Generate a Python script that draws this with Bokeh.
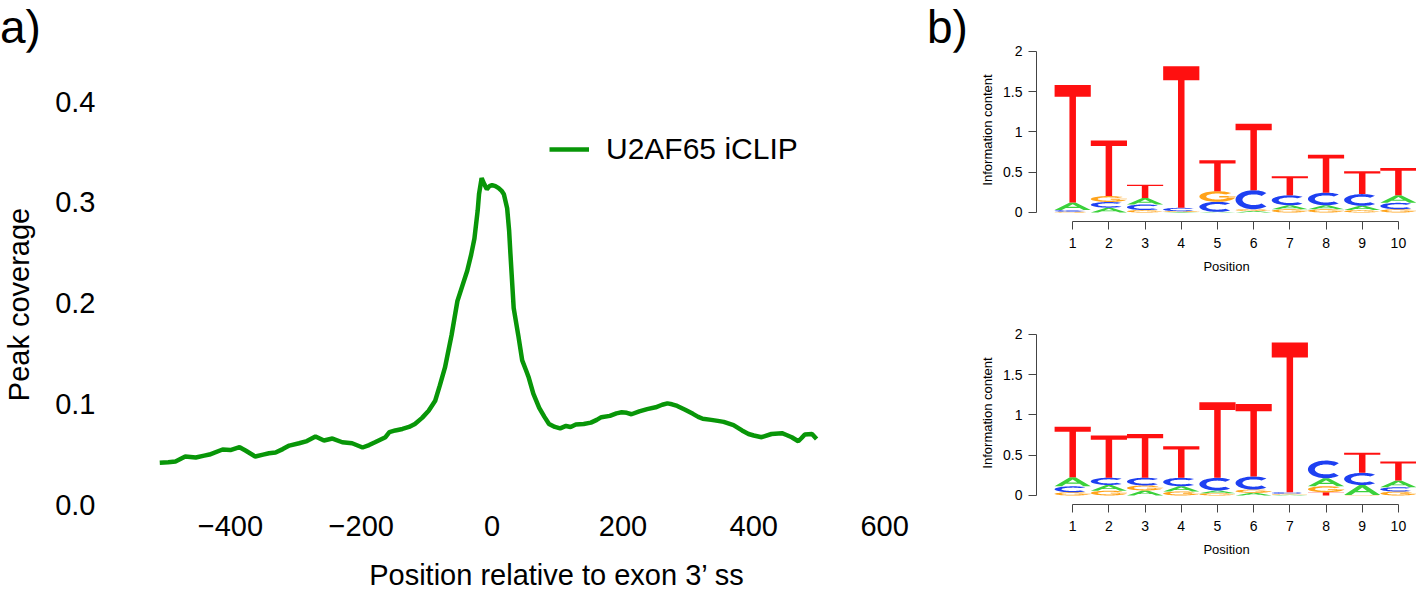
import numpy as np
from bokeh.plotting import figure
from bokeh.models import (ColumnDataSource, Div, FixedTicker, Legend, LegendItem, Range1d)
from bokeh.layouts import row, column
from bokeh.embed import file_html
from bokeh.resources import INLINE

FONT = "Liberation Sans"

# ---------------- panel a data ----------------
pos_rel = [-508, -495, -484, -469, -453, -440, -432, -412, -400, -386, -377, -362, -350, -341,
           -331, -320, -310, -295, -283, -270, -257, -244, -229, -214, -198, -188, -179, -163,
           -157, -148, -137, -127, -118, -107, -97, -87, -80, -72, -62, -53, -45, -38, -32, -27,
           -22, -20, -16, -12, -8, -4, 0, 5, 10, 15, 18, 23, 26, 28, 33, 40, 46, 52, 56, 63, 72,
           80, 87, 96, 104, 113, 120, 128, 140, 151, 160, 167, 180, 190, 198, 206, 213, 225, 237,
           250, 260, 268, 275, 283, 295, 307, 315, 322, 335, 345, 354, 369, 382, 392, 400, 412,
           427, 443, 450, 458, 468, 473, 478, 489, 496]
coverage = [0.0415, 0.0420, 0.0427, 0.0476, 0.0466, 0.0485, 0.0496, 0.0546, 0.0540, 0.0569,
            0.0536, 0.0476, 0.0495, 0.0509, 0.0516, 0.0550, 0.0585, 0.0608, 0.0630, 0.0675,
            0.0635, 0.0655, 0.0618, 0.0608, 0.0566, 0.0590, 0.0618, 0.0668, 0.0718, 0.0735,
            0.0750, 0.0770, 0.0800, 0.0860, 0.0930, 0.1030, 0.1180, 0.1360, 0.1680, 0.2020,
            0.2180, 0.2320, 0.2480, 0.2640, 0.2920, 0.3080, 0.3240, 0.3180, 0.3130, 0.3160,
            0.3170, 0.3160, 0.3140, 0.3110, 0.3080, 0.2940, 0.2720, 0.2490, 0.1950, 0.1680,
            0.1430, 0.1330, 0.1260, 0.1100, 0.0960, 0.0870, 0.0800, 0.0770, 0.0756, 0.0780,
            0.0770, 0.0794, 0.0800, 0.0813, 0.0840, 0.0867, 0.0880, 0.0905, 0.0915, 0.0910,
            0.0896, 0.0925, 0.0947, 0.0965, 0.0990, 0.1004, 0.0995, 0.0978, 0.0940, 0.0900,
            0.0870, 0.0851, 0.0840, 0.0830, 0.0820, 0.0788, 0.0735, 0.0700, 0.0685, 0.0668,
            0.0700, 0.0708, 0.0690, 0.0668, 0.0628, 0.0660, 0.0695, 0.0700, 0.0650]
series_label = "U2AF65 iCLIP"
x_ticks = [-400, -200, 0, 200, 400, 600]
x_tick_labels = ["\u2212400", "\u2212200", "0", "200", "400", "600"]
y_ticks = [0.0, 0.1, 0.2, 0.3, 0.4]
y_tick_labels = ["0.0", "0.1", "0.2", "0.3", "0.4"]
panel_tags = ["a)", "b)"]

# ---------------- panel b data (information content per letter) ----------------
positions = [1, 2, 3, 4, 5, 6, 7, 8, 9, 10]
logo1_A = [0.095, 0.060, 0.080, 0.005, 0.008, 0.020, 0.050, 0.050, 0.053, 0.094]
logo1_C = [0.020, 0.070, 0.070, 0.042, 0.124, 0.235, 0.123, 0.156, 0.145, 0.080]
logo1_G = [0.010, 0.074, 0.030, 0.011, 0.132, 0.021, 0.040, 0.040, 0.030, 0.040]
logo1_T = [1.455, 0.689, 0.165, 1.756, 0.383, 0.825, 0.235, 0.470, 0.284, 0.339]
logo2_A = [0.112, 0.070, 0.062, 0.065, 0.033, 0.033, 0.010, 0.099, 0.124, 0.083]
logo2_C = [0.074, 0.090, 0.095, 0.104, 0.157, 0.161, 0.020, 0.219, 0.152, 0.054]
logo2_G = [0.040, 0.060, 0.063, 0.050, 0.029, 0.041, 0.011, 0.074, 0.005, 0.049]
logo2_T = [0.627, 0.523, 0.544, 0.391, 0.936, 0.899, 1.856, 0.041, 0.248, 0.235]
logo_ticks = [0, 0.5, 1, 1.5, 2]
logo_tick_labels = ["0", "0.5", "1", "1.5", "2"]

LETTER_COLORS = {"A": "#3BD13B", "C": "#1E40F2", "G": "#FFA31A", "T": "#FF1010"}


# ---------------- letter shape templates (unit box) ----------------
def _arc(a0, a1, rx, ry, n=48):
    t = np.radians(np.linspace(a0, a1, n))
    return list(0.5 + rx * np.cos(t)), list(0.5 + ry * np.sin(t))


def letter_template(letter):
    """Return list of polygons; each polygon is a list of rings (xs, ys)."""
    if letter == "T":
        return [[([0, 1, 1, .59, .59, .41, .41, 0], [1, 1, .9, .9, 0, 0, .9, .9])]]
    if letter == "A":
        outer = ([0, .42, .58, 1, .8, .69, .31, .2], [0, 1, 1, 0, 0, .28, .28, 0])
        hole = ([.37, .63, .5], [.42, .42, .76])
        return [[outer, hole]]
    if letter == "C":
        ox, oy = _arc(45, 315, .5, .5)
        ix, iy = _arc(315, 45, .31, .28)
        return [[(ox + ix, oy + iy)]]
    if letter == "G":
        ox, oy = _arc(40, 360, .5, .5)
        ix, iy = _arc(360, 40, .31, .28)
        bar = ([.55, 1, 1, .55], [.40, .40, .55, .55])
        return [[(ox + ix, oy + iy)], [bar]]
    raise ValueError(letter)


def logo_source(A, C, G, T):
    xs, ys, colors = [], [], []
    for i, p in enumerate(positions):
        stack = sorted([("A", A[i]), ("C", C[i]), ("G", G[i]), ("T", T[i])], key=lambda s: s[1])
        base = 0.0
        for letter, h in stack:
            polys_x, polys_y = [], []
            for poly in letter_template(letter):
                rings_x, rings_y = [], []
                for rx, ry in poly:
                    rings_x.append([p - 0.5 + v for v in rx])
                    rings_y.append([base + v * h for v in ry])
                polys_x.append(rings_x)
                polys_y.append(rings_y)
            xs.append(polys_x)
            ys.append(polys_y)
            colors.append(LETTER_COLORS[letter])
            base += h
    return ColumnDataSource(dict(xs=xs, ys=ys, color=colors))


# ---------------- header strip (above panel a) carrying the panel tags ----------------
HDR_H = 52
PA_W = 975
tag_html = "".join(
    f'<span style="position:absolute;left:{x}px;top:0px;">{t}</span>'
    for t, x in zip(panel_tags, [0, 927]))
header = Div(text=(f'<div style="position:relative;width:{PA_W}px;height:{HDR_H}px;'
                   f'font-family:\'{FONT}\';font-size:46px;line-height:normal;color:black;">'
                   f'{tag_html}</div>'),
             width=PA_W, height=HDR_H, margin=(0, 0, 0, 0))

# ---------------- panel a ----------------
pa = figure(width=PA_W, height=593 - HDR_H, title=None, output_backend="svg",
            toolbar_location=None,
            x_range=Range1d(-540.5, 738.9), y_range=Range1d(-0.00495, 0.402),
            min_border_left=137, min_border_right=0, min_border_top=99 - HDR_H,
            min_border_bottom=593 - 510)
pa.outline_line_color = None
pa.grid.visible = False
r = pa.line(pos_rel, coverage, line_color="#089608", line_width=4.5)

pa.xaxis.ticker = FixedTicker(ticks=x_ticks, minor_ticks=[])
pa.xaxis.major_label_overrides = {t: l for t, l in zip(x_ticks, x_tick_labels)}
pa.yaxis.ticker = FixedTicker(ticks=y_ticks, minor_ticks=[])
pa.yaxis.major_label_overrides = {t: l for t, l in zip(y_ticks, y_tick_labels)}
pa.xaxis.axis_label = "Position relative to exon 3\u2019 ss"
pa.yaxis.axis_label = "Peak coverage"
for ax in (pa.xaxis[0], pa.yaxis[0]):
    ax.axis_line_color = None
    ax.major_tick_line_color = None
    ax.minor_tick_line_color = None
    ax.major_label_text_font = FONT
    ax.major_label_text_font_size = "29px"
    ax.major_label_text_color = "black"
    ax.axis_label_text_font = FONT
    ax.axis_label_text_font_size = "29px"
    ax.axis_label_text_font_style = "normal"
    ax.axis_label_text_color = "black"
pa.xaxis.major_label_standoff = 0
pa.xaxis.axis_label_standoff = 20
pa.yaxis.major_label_standoff = 37
pa.yaxis.axis_label_standoff = 17

legend = Legend(items=[LegendItem(label=series_label, renderers=[r])], location=(411, 343),
                border_line_color=None, background_fill_alpha=0, label_text_font=FONT,
                label_text_color="black", label_text_font_size="30px", glyph_width=40,
                glyph_height=34, label_height=34, label_standoff=17, padding=0, spacing=0,
                margin=0)
pa.add_layout(legend)


# ---------------- panel b ----------------
def make_logo(src, height, top, bottom, ytop):
    p = figure(width=1416 - PA_W, height=height, title=None, output_backend="svg",
               toolbar_location=None,
               x_range=Range1d(0, 10.5), y_range=Range1d(-0.1116, ytop),
               min_border_left=61, min_border_right=0, min_border_top=top,
               min_border_bottom=bottom)
    p.outline_line_color = None
    p.grid.visible = False
    p.multi_polygons(xs="xs", ys="ys", fill_color="color", line_color=None, source=src)
    p.xaxis.ticker = FixedTicker(ticks=positions, minor_ticks=[])
    p.yaxis.ticker = FixedTicker(ticks=logo_ticks, minor_ticks=[])
    p.yaxis.major_label_overrides = {t: l for t, l in zip(logo_ticks, logo_tick_labels)}
    p.xaxis.bounds = (1, 10)
    p.yaxis.bounds = (0, 2)
    p.xaxis.axis_label = "Position"
    p.yaxis.axis_label = "Information content"
    for ax in (p.xaxis[0], p.yaxis[0]):
        ax.axis_line_color = "#444444"
        ax.major_tick_line_color = "#444444"
        ax.major_tick_out = 8
        ax.major_tick_in = 0
        ax.minor_tick_line_color = None
        ax.major_label_text_font = FONT
        ax.major_label_text_font_size = "14px"
        ax.major_label_text_color = "black"
        ax.axis_label_text_font = FONT
        ax.axis_label_text_font_size = "13px"
        ax.axis_label_text_font_style = "normal"
        ax.axis_label_text_color = "black"
    p.xaxis.major_label_standoff = 8
    p.xaxis.axis_label_standoff = 8
    p.yaxis.major_label_standoff = 6
    p.yaxis.axis_label_standoff = 5
    return p


pb1 = make_logo(logo_source(logo1_A, logo1_C, logo1_G, logo1_T), 283, 38, 62, 2.1575)
pb2 = make_logo(logo_source(logo2_A, logo2_C, logo2_G, logo2_T), 310, 38, 89, 2.1575)

layout = row(column(header, pa), column(pb1, pb2))
open("out.html", "w").write(file_html(layout, INLINE))
